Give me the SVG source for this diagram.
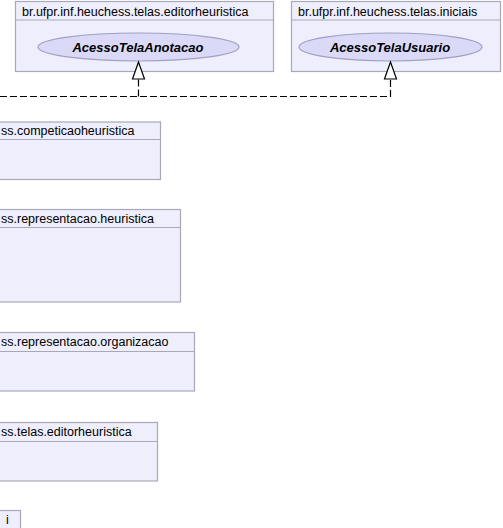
<svg xmlns="http://www.w3.org/2000/svg" width="503" height="528" viewBox="0 0 503 528">
<style>
.pkg{fill:#EEEEFC;stroke:#A8A8B8;stroke-width:1.2}
.hd{stroke:#A8A8B8;stroke-width:1.2}
.t{font-family:"Liberation Sans",Arial,sans-serif;font-size:12.5px;fill:#000}
.uc{fill:#DADAF8;stroke:#A0A0C0;stroke-width:1.2}
.ut{font-family:"Liberation Sans",Arial,sans-serif;font-size:13px;font-weight:bold;font-style:italic;fill:#000;text-anchor:middle}
.dash{fill:none;stroke:#000;stroke-width:1.2;stroke-dasharray:7,3}
.arr{fill:#fff;stroke:#000;stroke-width:1.2}
</style>
<rect width="503" height="528" fill="#fff"/>
<g id="pkg-editorheuristica-top">
<rect class="pkg" x="15.5" y="1.5" width="258" height="70"/>
<line class="hd" x1="15.5" y1="20" x2="273.5" y2="20"/>
<text class="t" x="22" y="16">br.ufpr.inf.heuchess.telas.editorheuristica</text>
<ellipse class="uc" cx="138.5" cy="47" rx="100.5" ry="14"/>
<text class="ut" x="138" y="52">AcessoTelaAnotacao</text>
</g>
<g id="pkg-iniciais-top">
<rect class="pkg" x="291.5" y="1.5" width="209" height="70"/>
<line class="hd" x1="291.5" y1="20" x2="500.5" y2="20"/>
<text class="t" x="298" y="16">br.ufpr.inf.heuchess.telas.iniciais</text>
<ellipse class="uc" cx="390.5" cy="47" rx="91.5" ry="14"/>
<text class="ut" x="390" y="52">AcessoTelaUsuario</text>
</g>
<g id="pkg-competicaoheuristica">
<rect class="pkg" x="-10" y="122" width="170.5" height="57.5"/>
<line class="hd" x1="-10" y1="139.5" x2="160.5" y2="139.5"/>
<text class="t" x="1" y="135">ss.competicaoheuristica</text>
</g>
<g id="pkg-representacao-heuristica">
<rect class="pkg" x="-10" y="209.5" width="190.5" height="92.5"/>
<line class="hd" x1="-10" y1="227.5" x2="180.5" y2="227.5"/>
<text class="t" x="1" y="222.5">ss.representacao.heuristica</text>
</g>
<g id="pkg-representacao-organizacao">
<rect class="pkg" x="-10" y="332.5" width="204.5" height="58.5"/>
<line class="hd" x1="-10" y1="351.5" x2="194.5" y2="351.5"/>
<text class="t" x="1" y="346">ss.representacao.organizacao</text>
</g>
<g id="pkg-telas-editorheuristica">
<rect class="pkg" x="-10" y="422.5" width="167.5" height="58.5"/>
<line class="hd" x1="-10" y1="441.5" x2="157.5" y2="441.5"/>
<text class="t" x="1" y="436">ss.telas.editorheuristica</text>
</g>
<g id="pkg-i">
<rect class="pkg" x="-10" y="510.5" width="30.5" height="30"/>
<text class="t" x="6" y="524">i</text>
</g>
<g id="connectors">
<path class="dash" d="M0 96.5 H390.5 V79"/>
<path class="dash" d="M138.5 96.5 V79"/>
<polygon class="arr" points="138.5,62 132.5,79 144.5,79"/>
<polygon class="arr" points="390.5,62 384.5,79 396.5,79"/>
</g>
</svg>
